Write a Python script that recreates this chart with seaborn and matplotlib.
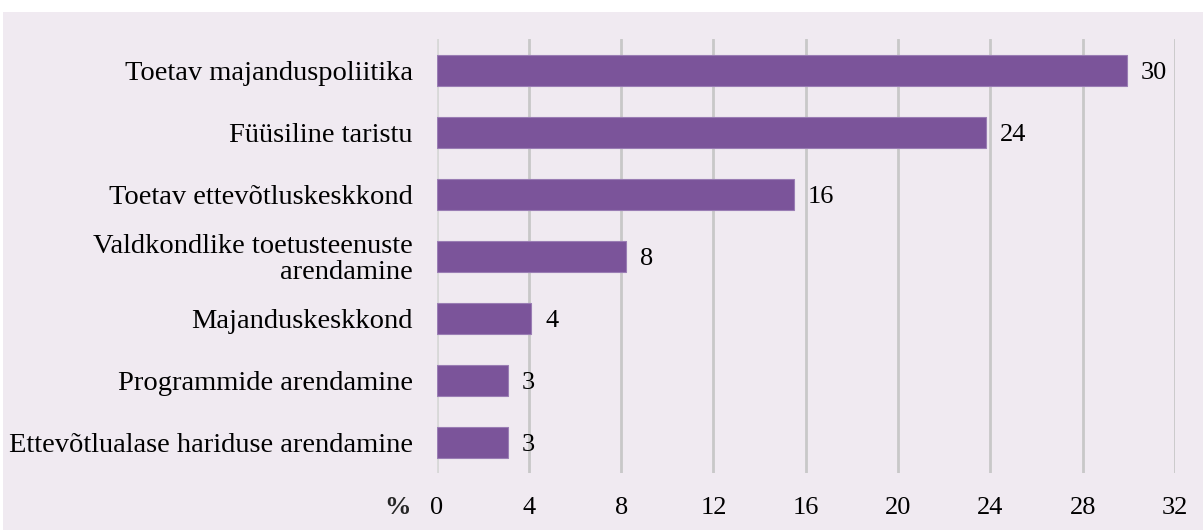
import matplotlib
matplotlib.use("Agg")
import matplotlib.pyplot as plt
from matplotlib.patches import Rectangle
import seaborn as sns
import pandas as pd

categories = [
    "Toetav majanduspoliitika",
    "Füüsiline taristu",
    "Toetav ettevõtluskeskkond",
    "Valdkondlike toetusteenuste\narendamine",
    "Majanduskeskkond",
    "Programmide arendamine",
    "Ettevõtlualase hariduse arendamine",
]
values = [29.9, 23.8, 15.5, 8.2, 4.1, 3.1, 3.1]
value_labels = ["30", "24", "16", "8", "4", "3", "3"]
x_ticks = [0, 4, 8, 12, 16, 20, 24, 28, 32]

bg = "#F0EAF1"
bar_color = "#7B549A"
FS = 19
FS_CAT = 20.5

sns.set_theme(style="white")
plt.rcParams["font.family"] = ["Liberation Serif", "DejaVu Serif"]

fig = plt.figure(figsize=(12.03, 5.30), dpi=100, facecolor="white")
fig.patches.append(Rectangle((3 / 1203, 0), 1, 1 - 12 / 530, transform=fig.transFigure,
                             facecolor=bg, edgecolor="none", zorder=-10))
ax = fig.add_axes([436.5 / 1203, 1 - 473 / 530, (1175 - 436.5) / 1203, (473 - 39) / 530])
ax.patch.set_alpha(0)

df = pd.DataFrame({"cat": categories, "val": values})
sns.barplot(data=df, x="val", y="cat", color=bar_color, width=0.5, ax=ax,
            saturation=1, zorder=3, linewidth=0.8, edgecolor="#9A7DB4")

ax.set_xlim(0, 32)
ax.set_xticks(x_ticks)
ax.set_xticklabels([str(t) for t in x_ticks], fontsize=FS, color="#000000")
ax.tick_params(axis="x", length=0, pad=17)
ax.tick_params(axis="y", length=0, pad=17, labelsize=FS_CAT, labelcolor="#000000")
for lbl in ax.get_yticklabels():
    lbl.set_multialignment("right")
    lbl.set_linespacing(1.05)
ax.grid(axis="x", color="#C8C8C8", linewidth=2, zorder=0)
ax.grid(axis="y", visible=False)
ax.axvline(0, color="#DADADA", linewidth=2, zorder=1)
for s in ax.spines.values():
    s.set_visible(False)
ax.set_xlabel("")
ax.set_ylabel("")

for cont in ax.containers:
    texts = ax.bar_label(cont, labels=value_labels, padding=10, fontsize=FS, color="#000000")
    for t in texts:
        t.set_va("center_baseline")

xt = ax.get_xticklabels()[0]
ax.annotate("%", xy=(0, 0), xycoords=xt, xytext=(-14, 0), textcoords="offset points",
            fontsize=FS, fontweight="bold", ha="right", va="bottom")

fig.savefig("out.png", dpi=100, facecolor="white")
